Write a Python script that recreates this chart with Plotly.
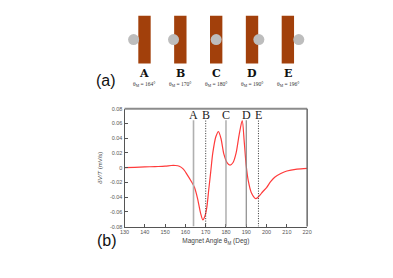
import plotly.graph_objects as go

# ---- data ----
angle_deg = [130, 135, 140, 145, 150, 153, 155, 157, 159, 161, 163, 164.5, 166, 167.5, 168.6,
             169.6, 170.5, 171.5, 172.5, 173.5, 175, 176.3, 177.5, 179, 180.5, 182, 183.5, 185,
             186.5, 188, 189, 190, 191, 192.5, 194.7, 196.5, 198, 200, 202, 204, 207, 210, 215, 220]
dv_over_t = [0.000, 0.0005, 0.001, 0.0015, 0.002, 0.003, 0.003, 0.002, -0.002, -0.010, -0.019,
             -0.027, -0.042, -0.062, -0.071, -0.066, -0.055, -0.030, -0.005, 0.020, 0.042, 0.049,
             0.040, 0.018, 0.007, 0.0035, 0.007, 0.020, 0.045, 0.064, 0.035, 0.002, -0.018, -0.034,
             -0.042, -0.038, -0.033, -0.027, -0.019, -0.013, -0.008, -0.0045, -0.002, -0.001]

labels = ["A", "B", "C", "D", "E"]
magnet_angles = [164, 170, 180, 190, 196]
marker_styles = [("solid", "#b0b0b0", 1.6), ("1px,1.5px", "#333333", 1.0), ("solid", "#9a9a9a", 1.2),
                 ("solid", "#8a8a8a", 1.2), ("1px,1.5px", "#333333", 1.0)]
magnet_pos = [0, 1, 2, 3, 4]

y_tickvals = [-0.08, -0.06, -0.04, -0.02, 0, 0.02, 0.04, 0.06, 0.08]
y_ticktext = ["-0.08", "-0.06", "-0.04", "-0.02", "0", "0.02", "0.04", "0.06", "0.08"]
x_tickvals = [130, 140, 150, 160, 170, 180, 190, 200, 210, 220]

OFF = 8  # page body margin
W, H = 393 - OFF, 278 - OFF


def px(x):
    return (x - OFF) / W


def py(y):
    return 1 - (y - OFF) / H


fig = go.Figure()

# ---- (b) curve ----
fig.add_trace(go.Scatter(x=angle_deg, y=dv_over_t, mode="lines",
                         line=dict(color="#ff3b3b", width=1.2, shape="spline", smoothing=0.8),
                         xaxis="x", yaxis="y", showlegend=False, hoverinfo="skip"))

# ---- (a) magnets ----
fig.add_trace(go.Bar(x=magnet_pos, y=[1] * 5, base=[0] * 5, width=0.345,
                     marker=dict(color="#a2400b", line=dict(width=0)),
                     xaxis="x2", yaxis="y2", showlegend=False, hoverinfo="skip"))
ball_x = [p + (a - 180) * 0.019 for p, a in zip(magnet_pos, magnet_angles)]
fig.add_trace(go.Scatter(x=ball_x, y=[0.5] * 5, mode="markers",
                         marker=dict(color="#bdbdbd", size=11, line=dict(width=0)),
                         xaxis="x2", yaxis="y2", showlegend=False, hoverinfo="skip"))

shapes = []
annotations = []
for lab, ang, (dash, col, w), p in zip(labels, magnet_angles, marker_styles, magnet_pos):
    shapes.append(dict(type="line", xref="x", yref="y", x0=ang, x1=ang, y0=-0.08, y1=0.0645,
                       line=dict(color=col, width=w, dash=dash), layer="above"))
    annotations.append(dict(x=ang, y=0.0715, xref="x", yref="y", text=lab, showarrow=False,
                            font=dict(family="Liberation Serif", size=12, color="#222"),
                            xanchor="center", yanchor="middle"))
    annotations.append(dict(x=p, y=-0.2, xref="x2", yref="y2", text="<b>%s</b>" % lab,
                            showarrow=False, font=dict(family="DejaVu Serif", size=11, color="#111"),
                            xanchor="center", yanchor="middle"))
    annotations.append(dict(x=p, y=-0.44, xref="x2", yref="y2",
                            text="θ<sub>M</sub> = %d°" % ang, showarrow=False,
                            font=dict(family="Liberation Serif", size=5.5, color="#333"),
                            xanchor="center", yanchor="middle"))

# frame top/right (thick gray)
shapes.append(dict(type="line", xref="x domain", yref="y domain", x0=0, x1=1, y0=1, y1=1,
                   line=dict(color="#8c8c8c", width=2)))
shapes.append(dict(type="line", xref="x domain", yref="y domain", x0=1, x1=1, y0=0, y1=1,
                   line=dict(color="#6a6a6a", width=1.5)))

annotations.append(dict(x=px(103), y=py(79), xref="paper", yref="paper", text="(a)",
                        showarrow=False, font=dict(family="Liberation Sans", size=16, color="#111"),
                        xanchor="center", yanchor="middle"))
annotations.append(dict(x=px(105), y=py(243), xref="paper", yref="paper", text="(b)",
                        showarrow=False, font=dict(family="Liberation Sans", size=16, color="#111"),
                        xanchor="center", yanchor="middle"))

unit = 36.8  # px per magnet
fig.update_layout(
    width=W, height=H, autosize=False,
    margin=dict(l=0, r=0, t=0, b=0),
    paper_bgcolor="white", plot_bgcolor="white",
    shapes=shapes, annotations=annotations, barmode="overlay",
    xaxis=dict(domain=[px(122.5), px(310)], range=[130, 220], tickvals=x_tickvals, ticks="inside",
               ticklen=3, tickcolor="#555", showline=True, linecolor="#555", linewidth=1,
               showgrid=False, zeroline=False, anchor="y",
               tickfont=dict(family="Liberation Sans", size=5.5, color="#555"),
               title=dict(text="Magnet Angle θ<sub>M</sub> (Deg)", standoff=4,
                          font=dict(family="Liberation Sans", size=6.5, color="#444"))),
    yaxis=dict(domain=[py(228.5), py(108)], range=[-0.08, 0.08], tickvals=y_tickvals,
               ticktext=y_ticktext,
               ticks="inside", ticklen=3, tickcolor="#555", showline=True, linecolor="#555",
               linewidth=1, showgrid=False, zeroline=False, anchor="x",
               tickfont=dict(family="Liberation Sans", size=5.5, color="#555"),
               title=dict(text="<i>δV/T</i> (mV/s)", standoff=6,
                          font=dict(family="Liberation Sans", size=6, color="#444"))),
    xaxis2=dict(domain=[0, 1], range=[(OFF - 143) / unit, (OFF + W - 143) / unit], visible=False,
                anchor="y2", fixedrange=True),
    yaxis2=dict(domain=[py(61.7 + 0.6 * 49), py(12.7)], range=[-0.6, 1], visible=False,
                anchor="x2", fixedrange=True),
)

fig.write_html("out.html")
